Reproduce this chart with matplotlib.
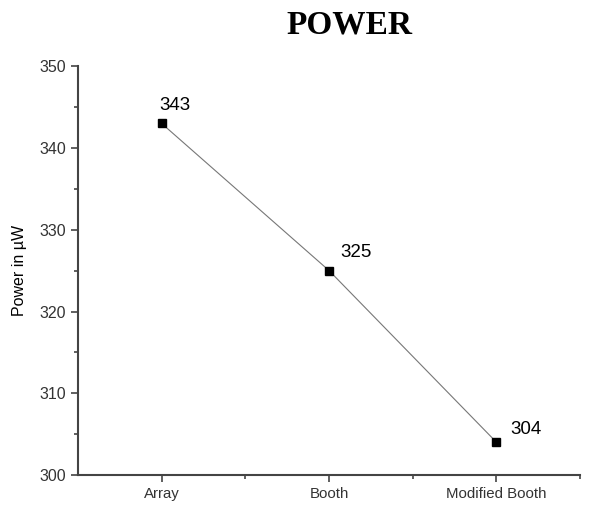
import matplotlib.pyplot as plt
import numpy as np

categories = ["Array", "Booth", "Modified Booth"]
power = [343, 325, 304]
# label offsets in points (dx, dy)
label_offsets = [(-2, 7), (8, 7), (10, 3)]

fig = plt.figure(figsize=(6, 5.09), dpi=100)
ax = fig.add_axes([0.13, 0.0668, 0.837, 0.803])

x = np.arange(1, len(categories) + 1)
ax.plot(x, power, color="#777777", linewidth=0.8, marker="s", markersize=6,
        markerfacecolor="black", markeredgecolor="black")

for xi, yi, off in zip(x, power, label_offsets):
    ax.annotate(str(yi), (xi, yi), xytext=off, textcoords="offset points",
                fontsize=13.5, family="Liberation Sans", ha="left", va="bottom")

ax.set_xlim(0.5, 3.5)
ax.set_ylim(300, 350)
ax.set_xticks(x)
ax.set_xticklabels(categories, family="Liberation Sans", fontsize=10.8)
ax.set_xticks([1.5, 2.5, 3.5], minor=True)
ax.set_yticks(np.arange(300, 351, 10))
ax.set_yticks(np.arange(305, 350, 10), minor=True)
for lab in ax.get_yticklabels():
    lab.set_family("Liberation Sans")
    lab.set_fontsize(11.5)

ax.spines["top"].set_visible(False)
ax.spines["right"].set_visible(False)
for s in ("left", "bottom"):
    ax.spines[s].set_color("#444444")
    ax.spines[s].set_linewidth(1.5)
ax.tick_params(which="major", direction="out", length=5, width=1.2, color="#444444", labelcolor="#333333")
ax.tick_params(which="minor", direction="out", length=3, width=1.2, color="#444444")

ax.set_ylabel("Power in µW", family="Liberation Sans", fontsize=11.5, labelpad=9)
fig.text(0.583, 0.951, "POWER", family="Liberation Serif", weight="bold",
         fontsize=24, ha="center", va="center")

fig.savefig("out.png", dpi=100)
